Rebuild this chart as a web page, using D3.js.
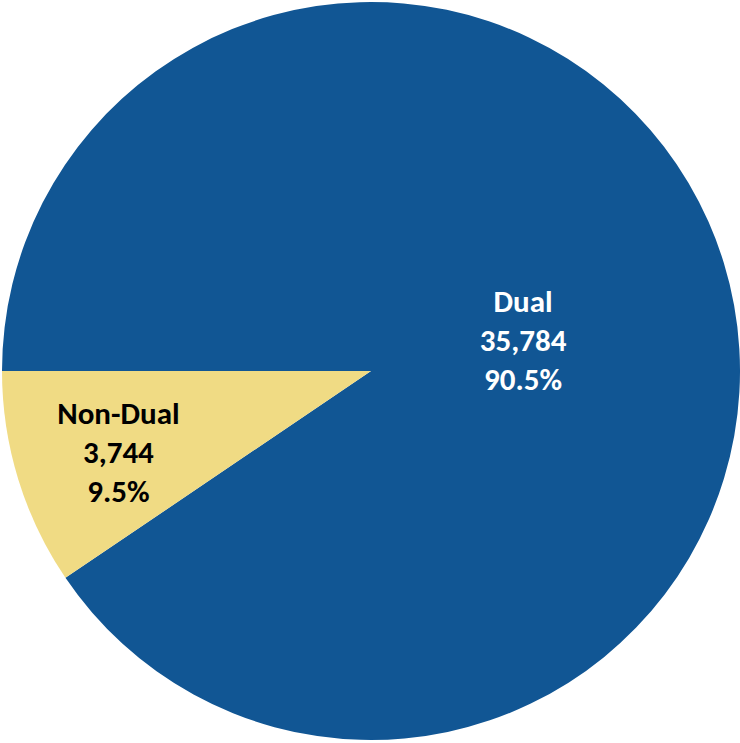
<!DOCTYPE html>
<html lang="en">
<head>
  <meta charset="UTF-8">
  <title>Dual vs Non-Dual</title>
  <script src="https://d3js.org/d3.v7.min.js"></script>
  <style>
    body { margin: 0; background: white; }
    .label { font-family: Carlito, Calibri, "Open Sans", sans-serif;
             font-weight: bold; font-size: 31px; text-anchor: middle; }
  </style>
</head>
<body>
<svg id="svg"></svg>
<script>
// data
const categories = ["Dual", "Non-Dual"];
const values = [35784, 3744];
const percents = ["90.5%", "9.5%"];
const colours = ["#115694", "#f0db84"];
const textColours = ["#ffffff", "#000000"];

const width = 740, height = 743;
const cx = 371, cy = 371, r = 369;
// label placement: fraction of radius, and a small nudge off the mid angle (degrees)
const labelPos = [0.42, 0.72];
const labelNudge = [6, -1];

const svg = d3.select("#svg").attr("width", width).attr("height", height);
const g = svg.append("g").attr("transform", `translate(${cx},${cy})`);

const pie = d3.pie().sort(null)
  .startAngle(-Math.PI / 2).endAngle(3 * Math.PI / 2)
  .value((d, i) => values[i]);
const arcs = pie(categories);

const arc = d3.arc().innerRadius(0).outerRadius(r);

g.selectAll(".slice")
  .data(arcs)
  .join("path")
  .attr("class", "slice")
  .attr("d", arc)
  .attr("fill", (d, i) => colours[i]);

const lines = arcs.map((d, i) => [d.data, d3.format(",")(values[i]), percents[i]]);

g.selectAll(".label")
  .data(arcs)
  .join("text")
  .attr("class", "label")
  .attr("fill", (d, i) => textColours[i])
  .attr("transform", (d, i) => {
    const a = (d.startAngle + d.endAngle) / 2 + labelNudge[i] * Math.PI / 180;
    const rr = r * labelPos[i];
    return `translate(${rr * Math.sin(a)},${-rr * Math.cos(a)})`;
  })
  .selectAll("tspan")
  .data((d, i) => lines[i])
  .join("tspan")
  .attr("x", 0)
  .attr("y", (t, j) => (j - 1) * 39 + 10)
  .text(t => t);
</script>
</body>
</html>
